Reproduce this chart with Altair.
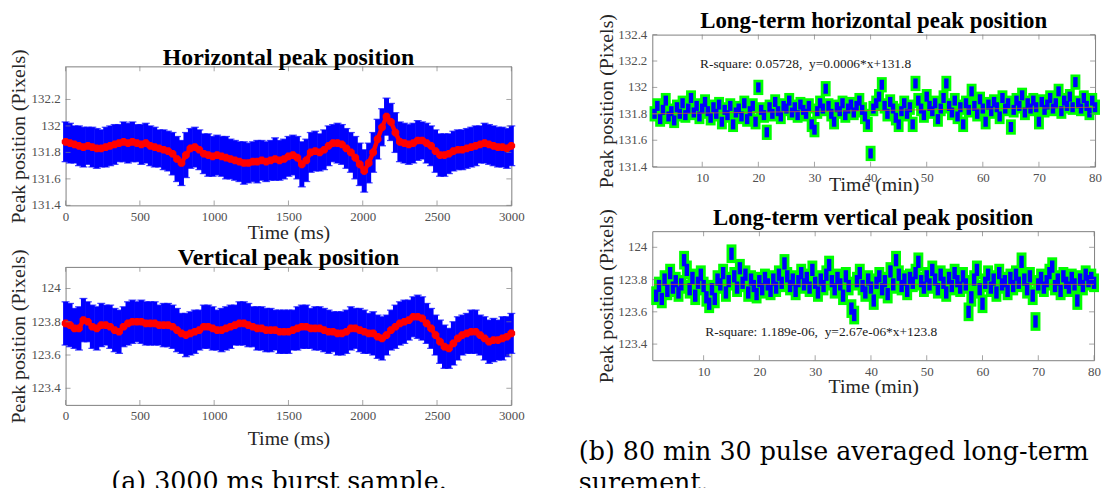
import altair as alt
import numpy as np
import pandas as pd

# ---------------- data ----------------
BURST_STEP_MS = 30  # samples every 30 ms, 0 .. 3000

H_BURST = [
    131.88, 131.87, 131.86, 131.85, 131.84, 131.85, 131.84, 131.83, 131.83, 131.84,
    131.85, 131.86, 131.87, 131.88, 131.87, 131.88, 131.87, 131.86, 131.87, 131.85,
    131.84, 131.83, 131.82, 131.81, 131.79, 131.75, 131.72, 131.78, 131.83, 131.84,
    131.82, 131.79, 131.78, 131.77, 131.78, 131.77, 131.76, 131.75, 131.74, 131.73,
    131.72, 131.72, 131.73, 131.73, 131.74, 131.73, 131.74, 131.75, 131.74, 131.75,
    131.77, 131.78, 131.76, 131.71, 131.74, 131.80, 131.81, 131.80, 131.82, 131.85,
    131.87, 131.87, 131.86, 131.83, 131.80, 131.76, 131.71, 131.66, 131.72, 131.80,
    131.90, 131.99, 132.07, 132.03, 131.95, 131.88, 131.87, 131.86, 131.87, 131.89,
    131.89, 131.87, 131.85, 131.81, 131.78, 131.78, 131.79, 131.81, 131.82, 131.82,
    131.83, 131.84, 131.85, 131.86, 131.87, 131.86, 131.85, 131.84, 131.84, 131.83,
    131.85,
]
H_BURST_ERR = [
    0.15, 0.15, 0.14, 0.15, 0.15, 0.14, 0.15, 0.15, 0.14, 0.15,
    0.15, 0.15, 0.14, 0.15, 0.15, 0.15, 0.14, 0.15, 0.15, 0.15,
    0.15, 0.14, 0.15, 0.15, 0.16, 0.17, 0.17, 0.17, 0.15, 0.15,
    0.15, 0.15, 0.16, 0.15, 0.15, 0.15, 0.16, 0.15, 0.15, 0.15,
    0.16, 0.15, 0.15, 0.16, 0.15, 0.15, 0.15, 0.16, 0.15, 0.15,
    0.15, 0.15, 0.16, 0.17, 0.16, 0.15, 0.15, 0.14, 0.15, 0.15,
    0.14, 0.15, 0.15, 0.15, 0.15, 0.16, 0.16, 0.16, 0.15, 0.15,
    0.15, 0.14, 0.14, 0.14, 0.15, 0.15, 0.15, 0.15, 0.15, 0.15,
    0.14, 0.15, 0.15, 0.16, 0.16, 0.16, 0.15, 0.15, 0.15, 0.15,
    0.15, 0.15, 0.15, 0.14, 0.15, 0.15, 0.15, 0.15, 0.15, 0.15,
    0.15,
]
V_BURST = [
    123.79, 123.78, 123.76, 123.76, 123.81, 123.80, 123.77, 123.76, 123.78, 123.78,
    123.77, 123.75, 123.74, 123.77, 123.79, 123.80, 123.80, 123.80, 123.79, 123.79,
    123.79, 123.78, 123.78, 123.78, 123.77, 123.75, 123.73, 123.72, 123.73, 123.74,
    123.75, 123.77, 123.77, 123.76, 123.75, 123.75, 123.76, 123.77, 123.78, 123.79,
    123.79, 123.78, 123.77, 123.76, 123.76, 123.75, 123.75, 123.75, 123.74, 123.74,
    123.74, 123.75, 123.76, 123.77, 123.77, 123.76, 123.76, 123.76, 123.75, 123.74,
    123.74, 123.73, 123.73, 123.74, 123.76, 123.76, 123.75, 123.74, 123.73, 123.73,
    123.71, 123.70, 123.72, 123.75, 123.77, 123.79, 123.80, 123.81, 123.83, 123.83,
    123.82, 123.79, 123.76, 123.72, 123.68, 123.65, 123.64, 123.67, 123.70, 123.72,
    123.73, 123.74, 123.74, 123.72, 123.70, 123.68, 123.69, 123.69, 123.70, 123.71,
    123.73,
]
V_BURST_ERR = [
    0.13, 0.13, 0.12, 0.13, 0.13, 0.12, 0.13, 0.13, 0.13, 0.12,
    0.13, 0.13, 0.13, 0.12, 0.13, 0.13, 0.12, 0.13, 0.13, 0.13,
    0.13, 0.12, 0.13, 0.13, 0.13, 0.13, 0.12, 0.13, 0.13, 0.13,
    0.12, 0.13, 0.13, 0.13, 0.12, 0.13, 0.13, 0.13, 0.12, 0.13,
    0.13, 0.13, 0.12, 0.13, 0.13, 0.13, 0.13, 0.12, 0.13, 0.13,
    0.13, 0.12, 0.13, 0.13, 0.13, 0.12, 0.13, 0.13, 0.13, 0.13,
    0.12, 0.13, 0.13, 0.13, 0.13, 0.12, 0.13, 0.13, 0.12, 0.13,
    0.13, 0.13, 0.12, 0.12, 0.13, 0.13, 0.13, 0.12, 0.12, 0.13,
    0.13, 0.12, 0.12, 0.12, 0.13, 0.13, 0.12, 0.13, 0.13, 0.12,
    0.12, 0.13, 0.13, 0.12, 0.13, 0.13, 0.13, 0.12, 0.13, 0.12,
    0.12,
]

LONG_START_MIN = 1.5
LONG_STEP_MIN = 0.5  # 1.5 .. 80 min

H_LONG = [
    131.80, 131.86, 131.76, 131.83, 131.90, 131.78, 131.82, 131.75, 131.85, 131.80,
    131.88, 131.79, 131.84, 131.92, 131.81, 131.86, 131.78, 131.84, 131.89, 131.82,
    131.77, 131.85, 131.80, 131.87, 131.74, 131.83, 131.79, 131.86, 131.72, 131.81,
    131.84, 131.78, 131.88, 131.76, 131.82, 131.86, 131.74, 132.00, 131.83, 131.79,
    131.66, 131.85, 131.80, 131.89, 131.82, 131.78, 131.86, 131.84, 131.90, 131.81,
    131.85, 131.79, 131.87, 131.83, 131.80, 131.86, 131.72, 131.68, 131.82, 131.88,
    131.84, 131.99, 131.86, 131.80, 131.74, 131.85, 131.82, 131.88, 131.79, 131.84,
    131.87, 131.81, 131.86, 131.90, 131.83, 131.78, 131.72, 131.50, 131.84, 131.88,
    131.93, 132.02, 131.86, 131.80, 131.89, 131.84, 131.77, 131.72, 131.82, 131.88,
    131.80, 131.85, 131.72, 132.03, 131.90, 131.84, 131.79, 131.93, 131.86, 131.82,
    131.88, 131.76, 131.84, 131.92, 132.03, 131.86, 131.81, 131.90, 131.78, 131.85,
    131.72, 131.88, 131.83, 131.97, 131.86, 131.80, 131.91, 131.84, 131.74, 131.87,
    131.82, 131.89, 131.85, 131.78, 131.92, 131.84, 131.88, 131.70, 131.83, 131.90,
    131.86, 131.94, 131.81, 131.88, 131.84, 131.90, 131.85, 131.74, 131.89, 131.83,
    131.87, 131.92, 131.84, 131.88, 131.97, 131.82, 131.90, 131.86, 131.93, 131.85,
    132.04, 131.88, 131.84, 131.92, 131.86, 131.81, 131.90, 131.85,
]
V_LONG = [
    123.70, 123.76, 123.68, 123.80, 123.73, 123.84, 123.75, 123.79, 123.72, 123.77,
    123.92, 123.86, 123.74, 123.81, 123.70, 123.78, 123.83, 123.76, 123.69, 123.65,
    123.74, 123.68, 123.80, 123.77, 123.84, 123.72, 123.79, 123.96, 123.82, 123.75,
    123.87, 123.78, 123.83, 123.72, 123.80, 123.76, 123.71, 123.79, 123.74, 123.81,
    123.77, 123.73, 123.80, 123.75, 123.83, 123.78, 123.90, 123.82, 123.76, 123.80,
    123.73, 123.79, 123.84, 123.77, 123.81, 123.75, 123.86, 123.78, 123.72, 123.80,
    123.76, 123.83, 123.89, 123.79, 123.74, 123.81, 123.77, 123.70, 123.82, 123.76,
    123.62, 123.58, 123.79, 123.84, 123.76, 123.72, 123.80, 123.75, 123.67, 123.78,
    123.82, 123.74, 123.79, 123.71, 123.85, 123.77, 123.92, 123.83, 123.76, 123.80,
    123.73, 123.81, 123.78, 123.84, 123.91, 123.79, 123.75, 123.82, 123.77, 123.86,
    123.80, 123.74, 123.83, 123.78, 123.72, 123.81, 123.76, 123.84, 123.79, 123.75,
    123.82, 123.77, 123.60, 123.69, 123.80, 123.86, 123.74, 123.65, 123.78, 123.83,
    123.75, 123.80, 123.72, 123.84, 123.77, 123.79, 123.73, 123.81, 123.76, 123.83,
    123.78, 123.91, 123.80, 123.74, 123.82, 123.70, 123.54, 123.77, 123.81, 123.75,
    123.79, 123.84, 123.88, 123.76, 123.80, 123.73, 123.82, 123.78, 123.75, 123.81,
    123.77, 123.67, 123.80, 123.76, 123.83, 123.79, 123.81, 123.78,
]
LONG_ERR_OUTER = 0.058
LONG_ERR_INNER = 0.038

FIT_X = [1.1, 80.0]
H_FIT = [131.80, 131.85]
V_FIT = [123.77, 123.77]

X_TICKS_MS = [0, 500, 1000, 1500, 2000, 2500, 3000]
X_TICKS_MIN = [10, 20, 30, 40, 50, 60, 70, 80]
Y_TICKS_H = [131.4, 131.6, 131.8, 132.0, 132.2]
Y_TICKS_H_LONG = [131.4, 131.6, 131.8, 132.0, 132.2, 132.4]
Y_TICKS_V = [123.4, 123.6, 123.8, 124.0]

TITLES = ["Horizontal peak position", "Vertical peak position",
          "Long-term horizontal peak position", "Long-term vertical peak position"]
ANN_H = "R-square: 0.05728,\u00a0 y=0.0006*x+131.8"
ANN_V = "R-square: 1.189e-06,\u00a0 y=2.67e-06*x+123.8"
ANN_H_POS = (9.6, 132.18)
ANN_V_POS = (10.3, 123.475)
CAPTION_A = "(a) 3000 ms burst sample."
CAPTION_B = ["(b) 80 min 30 pulse averaged long-term mea-", "surement."]

# ---------------- style ----------------
BLUE = "#0000ff"
RED = "#ff0000"
GREEN = "#00ff00"
FRAME = "#7f7f7f"
LABEL = "#505050"
SERIF = "Liberation Serif"
CAP_FONT = "DejaVu Serif"


def frame_ticks(xvals, yvals, xs, ys, w, h):
    xt = alt.Chart(pd.DataFrame({"v": xvals}))
    yt = alt.Chart(pd.DataFrame({"v": yvals}))
    kw = dict(color=FRAME, thickness=1, size=5)
    return [
        xt.mark_tick(orient="vertical", **kw).encode(
            x=alt.X("v:Q", scale=xs), y=alt.value(h - 2.5)),
        xt.mark_tick(orient="vertical", **kw).encode(
            x=alt.X("v:Q", scale=xs), y=alt.value(2.5)),
        yt.mark_tick(orient="horizontal", **kw).encode(
            y=alt.Y("v:Q", scale=ys), x=alt.value(2.5)),
        yt.mark_tick(orient="horizontal", **kw).encode(
            y=alt.Y("v:Q", scale=ys), x=alt.value(w - 2.5)),
    ]


def y_labels(yvals, ys):
    df = pd.DataFrame({"v": yvals, "s": [f"{v:g}" for v in yvals]})
    return alt.Chart(df).mark_text(align="right", baseline="middle", font=SERIF,
                                   fontSize=13, color=LABEL).encode(
        y=alt.Y("v:Q", scale=ys), x=alt.value(-5), text="s:N")


def title_layer(text, w, offset, size):
    return alt.Chart(pd.DataFrame({"s": [text]})).mark_text(
        font=SERIF, fontSize=size, fontWeight="bold", color="black",
        align="center", baseline="alphabetic").encode(
        text="s:N", x=alt.value(w / 2), y=alt.value(-offset))


def axes(xvals, xtitle, xtitle_y, yvals, ytitle_x):
    xax = alt.Axis(values=xvals, format="d", title=xtitle, titleY=xtitle_y,
                   titleBaseline="middle", labelPadding=5, labelOverlap=False,
                   labelFlush=False)
    yax = alt.Axis(values=yvals, labels=False, title="Peak position (Pixels)",
                   titleX=ytitle_x, titleBaseline="middle")
    return xax, yax


def burst_panel(center, err, title, ydom, yticks, w, h, title_off, xtitle_y, ytitle_x):
    c = np.array(center)
    e = np.array(err)
    t = np.arange(len(c)) * BURST_STEP_MS
    df = pd.DataFrame({"t": t, "c": c, "lo": c - e, "hi": c + e})
    xs = alt.Scale(domain=[0, 3000], nice=False, zero=False)
    ys = alt.Scale(domain=ydom, nice=False, zero=False)
    xax, yax = axes(X_TICKS_MS, "Time (ms)", xtitle_y, yticks, ytitle_x)
    base = alt.Chart(df)
    bars = base.mark_rule(color=BLUE, strokeWidth=5).encode(
        x=alt.X("t:Q", scale=xs, axis=xax),
        y=alt.Y("lo:Q", scale=ys, axis=yax), y2="hi:Q")
    cap_lo = base.mark_tick(orient="horizontal", color=BLUE, size=8, thickness=1.3).encode(
        x=alt.X("t:Q", scale=xs), y=alt.Y("lo:Q", scale=ys))
    cap_hi = base.mark_tick(orient="horizontal", color=BLUE, size=8, thickness=1.3).encode(
        x=alt.X("t:Q", scale=xs), y=alt.Y("hi:Q", scale=ys))
    red_line = base.mark_line(color=RED, strokeWidth=4.5).encode(
        x=alt.X("t:Q", scale=xs), y=alt.Y("c:Q", scale=ys))
    star1 = base.mark_point(shape="cross", filled=True, color=RED, size=60, opacity=1).encode(
        x=alt.X("t:Q", scale=xs), y=alt.Y("c:Q", scale=ys))
    star2 = base.mark_point(shape="cross", filled=True, color=RED, size=60, opacity=1,
                            angle=45).encode(
        x=alt.X("t:Q", scale=xs), y=alt.Y("c:Q", scale=ys))
    layers = [bars, cap_lo, cap_hi, red_line, star1, star2] + \
        frame_ticks(X_TICKS_MS, yticks, xs, ys, w, h) + \
        [y_labels(yticks, ys), title_layer(title, w, title_off, 24)]
    return alt.layer(*layers).properties(
        width=w, height=h, view=alt.ViewBackground(stroke=FRAME, strokeWidth=1))


def long_panel(center, fit, ann, ann_pos, title, xdom, ydom, yticks, w, h,
               title_off, xtitle_y, ytitle_x):
    c = np.array(center)
    t = LONG_START_MIN + np.arange(len(c)) * LONG_STEP_MIN
    df = pd.DataFrame({"t": t, "c": c,
                       "glo": c - LONG_ERR_OUTER, "ghi": c + LONG_ERR_OUTER,
                       "blo": c - LONG_ERR_INNER, "bhi": c + LONG_ERR_INNER})
    xs = alt.Scale(domain=xdom, nice=False, zero=False)
    ys = alt.Scale(domain=ydom, nice=False, zero=False)
    xax, yax = axes(X_TICKS_MIN, "Time (min)", xtitle_y, yticks, ytitle_x)
    base = alt.Chart(df)
    green = base.mark_rule(color=GREEN, strokeWidth=10).encode(
        x=alt.X("t:Q", scale=xs, axis=xax),
        y=alt.Y("glo:Q", scale=ys, axis=yax), y2="ghi:Q")
    blue = base.mark_rule(color=BLUE, strokeWidth=4.5).encode(
        x=alt.X("t:Q", scale=xs),
        y=alt.Y("blo:Q", scale=ys), y2="bhi:Q")
    fit_df = pd.DataFrame({"x": FIT_X, "y": fit})
    fit_line = alt.Chart(fit_df).mark_line(color="#c0602a", strokeWidth=1, opacity=0.8).encode(
        x=alt.X("x:Q", scale=xs), y=alt.Y("y:Q", scale=ys))
    ann_df = pd.DataFrame({"x": [ann_pos[0]], "y": [ann_pos[1]], "s": [ann]})
    ann_txt = alt.Chart(ann_df).mark_text(align="left", baseline="middle", font=SERIF,
                                          fontSize=13.5, color="#1a1a1a").encode(
        x=alt.X("x:Q", scale=xs), y=alt.Y("y:Q", scale=ys), text="s:N")
    layers = [green, blue, fit_line, ann_txt] + \
        frame_ticks(X_TICKS_MIN, yticks, xs, ys, w, h) + \
        [y_labels(yticks, ys), title_layer(title, w, title_off, 23)]
    return alt.layer(*layers).properties(
        width=w, height=h, view=alt.ViewBackground(stroke=FRAME, strokeWidth=1))


pA = burst_panel(H_BURST, H_BURST_ERR, TITLES[0], [131.4, 132.45], Y_TICKS_H,
                 449, 140, 1.5, 27, -47)
pB = burst_panel(V_BURST, V_BURST_ERR, TITLES[1], [123.3, 124.13], Y_TICKS_V,
                 449, 139, 1.5, 34, -47)
pC = long_panel(H_LONG, H_FIT, ANN_H, ANN_H_POS, TITLES[2], [1.1, 80], [131.4, 132.4],
                Y_TICKS_H_LONG, 446, 133, 6.5, 18, -46)
pD = long_panel(V_LONG, V_FIT, ANN_V, ANN_V_POS, TITLES[3], [0.8, 80], [123.3, 124.1],
                Y_TICKS_V, 445, 130, 6, 27, -46)

spacer = alt.Chart(pd.DataFrame({"s": [""]})).mark_text().encode(
    text="s:N").properties(width=449, height=6)

capA = alt.Chart(pd.DataFrame({"s": [CAPTION_A]})).mark_text(
    font=CAP_FONT, fontSize=25.5, align="center", baseline="middle", color="black").encode(
    text="s:N", x=alt.value(215), y=alt.value(30)).properties(width=449, height=10)

capB1 = alt.Chart(pd.DataFrame({"s": [CAPTION_B[0]]})).mark_text(
    font=CAP_FONT, fontSize=25.5, align="left", baseline="middle", color="black",
    limit=527, ellipsis=" ").encode(
    text="s:N", x=alt.value(-74), y=alt.value(44))
capB2 = alt.Chart(pd.DataFrame({"s": [CAPTION_B[1]]})).mark_text(
    font=CAP_FONT, fontSize=25.5, align="left", baseline="middle", color="black").encode(
    text="s:N", x=alt.value(-74), y=alt.value(75))
capB = alt.layer(capB1, capB2).properties(width=446, height=10)

left = alt.vconcat(spacer, pA, pB, capA, spacing=3)
right = alt.vconcat(pC, pD, capB, spacing=11)

chart = alt.hconcat(left, right, spacing=54).properties(
    padding={"left": 0, "top": 0, "right": 0, "bottom": 0}
).configure_view(stroke=None).configure_axis(
    labelFont=SERIF, labelFontSize=13, labelColor=LABEL,
    titleFont=SERIF, titleFontSize=20, titleFontWeight="normal", titleColor="#262626",
    grid=False, domain=False, ticks=False, labelFlush=False, labelOverlap=False,
)

chart.save("out.html", embed_options={"renderer": "svg", "actions": False})
